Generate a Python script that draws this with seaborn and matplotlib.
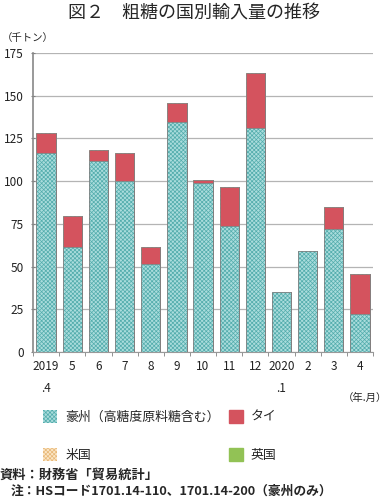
import numpy as np
import pandas as pd
import matplotlib
matplotlib.use("Agg")
import matplotlib.pyplot as plt
import seaborn as sns
from matplotlib.patches import Patch
from matplotlib.ticker import FixedLocator

# ---- data (thousand tonnes) ----
months = ["2019\n.4", "5", "6", "7", "8", "9", "10", "11", "12", "2020\n.1", "2", "3", "4"]
australia = [116.3, 61.6, 111.9, 100.1, 51.7, 134.6, 99.1, 73.7, 131.1, 35.0, 59.0, 71.8, 22.4]
thailand = [11.7, 17.8, 6.3, 16.3, 9.9, 10.9, 1.5, 22.8, 32.2, 0.1, 0.3, 12.9, 23.1]
usa = [0, 0, 0, 0, 0, 0, 0, 0, 0, 0, 0, 0, 0]
uk = [0, 0, 0, 0, 0, 0, 0, 0, 0, 0, 0, 0, 0]
series_names = ["豪州（高糖度原料糖含む）", "タイ", "米国", "英国"]
yticks = [0, 25, 50, 75, 100, 125, 150, 175]

sns.set_theme(style="white")
plt.rcParams["font.family"] = ["Noto Sans CJK JP", "DejaVu Sans"]
plt.rcParams["hatch.linewidth"] = 0.5

c_aus = "#aadcdc"
h_aus = "#52acac"
c_thai = "#d4535e"
c_us = "#fbe6c6"
h_us = "#e8b878"
c_uk = "#92c255"
HATCH = "xxxxxxxx"

fig = plt.figure(figsize=(3.89, 5.0), dpi=100)
ax = fig.add_axes([0.085, 0.296, 0.874, 0.598])

df = pd.DataFrame({"month": months, "aus": australia, "thai": thailand, "us": usa, "uk": uk})
df["c1"] = df["aus"]
df["c2"] = df["c1"] + df["thai"]
df["c3"] = df["c2"] + df["us"]
df["c4"] = df["c3"] + df["uk"]

w = 0.74
sns.barplot(data=df, x="month", y="c4", color=c_uk, saturation=1, width=w,
            edgecolor="#808080", linewidth=0.6, ax=ax, errorbar=None)
sns.barplot(data=df, x="month", y="c3", color=c_us, saturation=1, width=w,
            edgecolor=h_us, linewidth=0, hatch=HATCH, ax=ax, errorbar=None)
sns.barplot(data=df, x="month", y="c2", color=c_thai, saturation=1, width=w,
            edgecolor="#808080", linewidth=0.6, ax=ax, errorbar=None)
sns.barplot(data=df, x="month", y="c1", color=c_aus, saturation=1, width=w,
            edgecolor=h_aus, linewidth=0, hatch=HATCH, ax=ax, errorbar=None)
sns.barplot(data=df, x="month", y="c1", fill=False, width=w,
            edgecolor="#808080", linewidth=0.6, ax=ax, errorbar=None)

ax.set_ylim(0, 175)
ax.set_xlim(-0.5, len(months) - 0.5)
ax.set_yticks(yticks)
ax.set_yticklabels([str(v) for v in yticks], fontsize=8.5)
ax.set_xticks(range(len(months)))
ax.set_xticklabels(months, fontsize=8.5, linespacing=1.9, va="top")
ax.xaxis.set_minor_locator(FixedLocator(np.arange(-0.5, len(months), 1.0)))
ax.tick_params(axis="x", which="major", length=0, pad=6, colors="#222222")
ax.tick_params(axis="x", which="minor", length=3, width=0.6, color="#808080", direction="out", bottom=True)
ax.tick_params(axis="y", which="major", length=3, width=0.8, color="#808080", direction="inout", left=True, pad=5, colors="#222222")
ax.set_xlabel("")
ax.set_ylabel("")
ax.grid(axis="y", color="#b4b4b4", linewidth=0.9)
ax.set_axisbelow(True)
for s in ["top", "right"]:
    ax.spines[s].set_visible(False)
ax.spines["left"].set_color("#888888")
ax.spines["left"].set_linewidth(1.2)
ax.spines["bottom"].set_color("#999999")
ax.spines["bottom"].set_linewidth(0.8)

fig.text(0.5, 0.972, "図２　粗糖の国別輸入量の推移", ha="center", va="center", fontsize=13)
fig.text(0.005, 0.924, "（千トン）", ha="left", va="center", fontsize=7.5)
fig.text(0.995, 0.204, "（年.月）", ha="right", va="center", fontsize=7.5)
fig.text(0.0, 0.05, "資料：財務省「貿易統計」", ha="left", va="center", fontsize=9.5, fontweight="bold")
fig.text(0.027, 0.018, "注：HSコード1701.14-110、1701.14-200（豪州のみ）", ha="left", va="center", fontsize=9.2, fontweight="bold")

handles = [
    Patch(facecolor=c_aus, edgecolor=h_aus, hatch=HATCH, linewidth=0),
    Patch(facecolor=c_us, edgecolor=h_us, hatch=HATCH, linewidth=0),
    Patch(facecolor=c_thai, edgecolor=c_thai),
    Patch(facecolor=c_uk, edgecolor=c_uk),
]
labels = [series_names[0], series_names[2], series_names[1], series_names[3]]
fig.legend(handles, labels, ncol=2, loc="center left", bbox_to_anchor=(0.098, 0.128),
           frameon=False, fontsize=9.3, handlelength=1.1, handleheight=1.1,
           labelspacing=1.9, columnspacing=0.7, handletextpad=0.6, borderaxespad=0)

fig.savefig("out.png", dpi=100)
